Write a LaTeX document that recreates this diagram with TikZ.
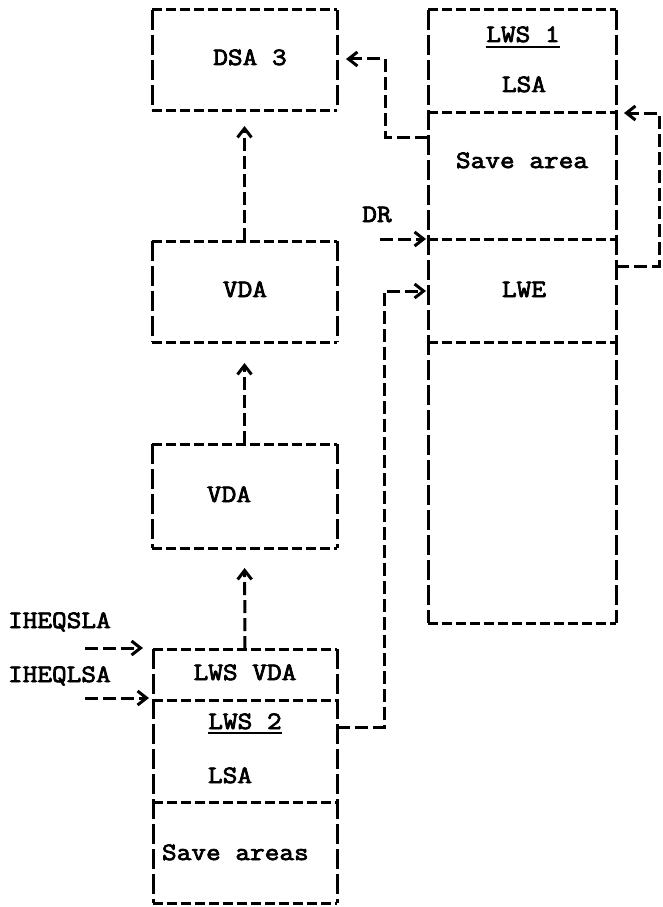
\documentclass[tikz,border=0pt]{standalone}
\usepackage{fontspec}
\setmonofont[FakeStretch=1.14, FakeBold=3]{Latin Modern Mono}
\usetikzlibrary{arrows.meta}
\newcommand\mydbox[1]{%
  \draw[hd] (#1.north west) -- (#1.north east) (#1.south west) -- (#1.south east);
  \draw[vd] (#1.north west) -- (#1.south west) (#1.north east) -- (#1.south east);}
\begin{document}
\begin{tikzpicture}[x=1pt,y=-1pt,
  hd/.style={line width=3pt, dash pattern=on 10pt off 4pt},
  vd/.style={line width=3pt, dash pattern=on 20pt off 5pt},
  conn/.style={line width=3pt, dash pattern=on 13pt off 5pt},
  arr/.style={-{Straight Barb[length=9pt,width=14pt]}},
  boxn/.style={draw=none, inner sep=0pt, outer sep=0pt},
  txt/.style={inner sep=0pt, outer sep=0pt, anchor=base,
    font=\ttfamily\fontsize{25}{25}\selectfont}]
\useasboundingbox (0,0) rectangle (662,907);
% boxes
\node[boxn, minimum width=185pt, minimum height=100pt] (dsa) at (244.5,60) {};
\node[boxn, minimum width=185pt, minimum height=101pt] (vda1) at (244.5,291.5) {};
\node[boxn, minimum width=185pt, minimum height=104pt] (vda2) at (244.5,496) {};
\node[boxn, minimum width=184pt, minimum height=254pt] (lws2) at (245,776) {};
\node[boxn, minimum width=188pt, minimum height=613pt] (lws1) at (522,316.5) {};
\mydbox{dsa}\mydbox{vda1}\mydbox{vda2}\mydbox{lws2}\mydbox{lws1}
% dividers
\draw[hd] (lws1.west |- 0,112) -- (lws1.east |- 0,112);
\draw[hd] (lws1.west |- 0,239) -- (lws1.east |- 0,239);
\draw[hd] (lws1.west |- 0,342) -- (lws1.east |- 0,342);
\draw[hd] (lws2.west |- 0,700) -- (lws2.east |- 0,700);
\draw[hd] (lws2.west |- 0,802) -- (lws2.east |- 0,802);
% texts
\node[txt] (tdsa) at (250,65) {DSA 3};
\node[txt] (tlws1) at (523,42) {LWS 1};
\draw[line width=2.4pt] ([yshift=-5pt]tlws1.base west) -- ([yshift=-5pt]tlws1.base east);
\node[txt] (tlsa1) at (524,92) {LSA};
\node[txt] (tsave1) at (522,168) {Save area};
\node[txt] (tlwe) at (524,297) {LWE};
\node[txt] (tdr) at (377,222) {DR};
\node[txt] (tvda1) at (245,297) {VDA};
\node[txt] (tvda2) at (229,502) {VDA};
\node[txt, anchor=base west] (tqsla) at (8,628) {IHEQSLA};
\node[txt, anchor=base west] (tqlsa) at (8,682) {IHEQLSA};
\node[txt] (tlwsvda) at (245,680) {LWS VDA};
\node[txt] (tlws2) at (245,729) {LWS 2};
\draw[line width=2.4pt] ([yshift=-4pt]tlws2.base west) -- ([yshift=-4pt]tlws2.base east);
\node[txt, anchor=base west] (tlsa2) at (208,783) {LSA};
\node[txt, anchor=base west] (tsave2) at (162,860) {Save areas};
% vertical up connectors
\draw[conn, arr, shorten >=16pt] (vda1.north) -- (dsa.south);
\draw[conn, arr, shorten >=21pt] (vda2.north) -- (vda1.south);
\draw[conn, arr, shorten >=20pt] (lws2.north) -- (vda2.south);
% left incoming arrows
\coordinate (qs) at (85,648);
\coordinate (ql) at (85,698);
\coordinate (drs) at (380,239);
\draw[conn, arr, shorten >=10pt] (qs) -- (qs -| lws2.west);
\draw[conn, arr, shorten >=4pt] (ql) -- (ql -| lws2.west);
\draw[conn, arr, shorten >=2pt] (drs) -- (drs -| lws1.west);
% LWS 2 -> LWE
\coordinate (lweout) at (lws2.east |- 0,727);
\coordinate (lwein) at (lws1.west |- 0,291);
\draw[conn, arr, shorten >=2pt] (lweout) -- (384,727) -- (384,291) -- (lwein);
% save area -> DSA 3
\coordinate (saout) at (lws1.west |- 0,137);
\coordinate (dsain) at (dsa.east |- 0,59);
\draw[conn, arr, shorten >=9pt] (saout) -- (385,137) -- (385,59) -- (dsain);
% loop on right
\coordinate (rout) at (lws1.east |- 0,266);
\coordinate (rin) at (lws1.east |- 0,113);
\draw[conn, arr, shorten >=8pt] (rout) -- (659,266) -- (659,113) -- (rin);
\end{tikzpicture}
\end{document}
